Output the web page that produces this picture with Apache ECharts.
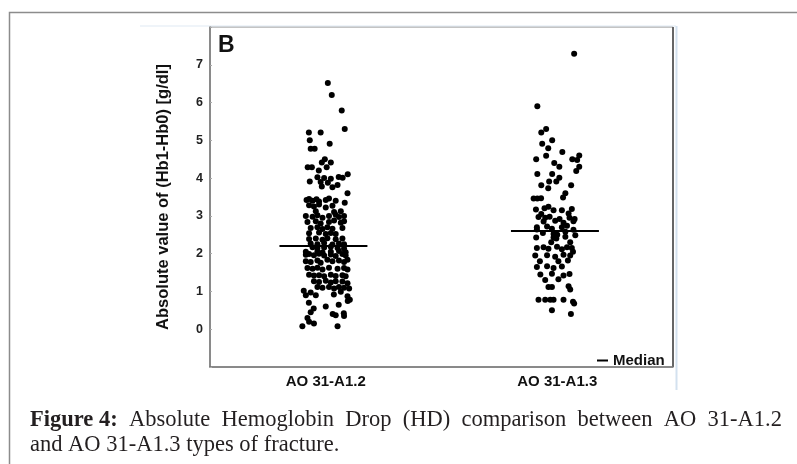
<!DOCTYPE html>
<html lang="en">
<head>
    <meta charset="UTF-8">
    <title>Absolute Hemoglobin Drop</title>
    <style>
        html, body { margin: 0; padding: 0; background: #fff; }
        #chart { width: 797px; height: 464px; }
    </style>
</head>
<body>
    <div id="chart"></div>
<script src="https://cdn.jsdelivr.net/npm/echarts@6/dist/echarts.min.js"></script>
<script type="text/javascript">
    // categories and medians
    var categories = ['AO 31-A1.2', 'AO 31-A1.3'];
    var medians = [2.2, 2.6];

    // [jitter, value] (jitter: band = 100 units)
    var groupA12 = [
        [0.9, 6.52], [2.6, 6.2], [6.9, 5.79], [8.2, 5.3], [-7.3, 5.21], [-2.2, 5.21], [-6.9, 5.0], [1.7, 4.91],
        [-6.5, 4.78], [-4.8, 4.78], [-0.4, 4.5], [-1.7, 4.41], [2.2, 4.41], [0.4, 4.29], [-7.8, 4.29], [-6.0, 4.29],
        [-3.0, 4.2], [9.5, 4.1], [7.3, 4.01],
        [-3.6, 4.02], [-0.7, 4.0], [2.2, 3.98], [5.6, 4.03],
        [-6.9, 3.91], [-2.2, 3.9], [0.9, 3.88], [5.1, 3.82],
        [-1.7, 3.78], [2.9, 3.76], [9.4, 3.6],
        [-8.3, 3.42], [-7.2, 3.45], [-5.7, 3.4], [-4.0, 3.44], [-2.9, 3.38], [0, 3.42], [1.4, 3.46], [4.3, 3.4], [8.2, 3.35],
        [-7.2, 3.28], [-5.1, 3.25], [-2.9, 3.3], [0, 3.22], [2.9, 3.27],
        [-4.3, 3.12], [3.6, 3.1], [6.5, 3.12],
        [-8.6, 3.0], [-5.7, 2.98], [-3.6, 3.02], [-1.4, 2.95], [1.4, 3.0], [4.3, 3.03], [5.7, 2.97], [7.9, 3.0],
        [-7.9, 2.84], [-4.3, 2.86], [-2.2, 2.8], [1.4, 2.84], [3.6, 2.88], [6.5, 2.82], [7.9, 2.86],
        [-6.5, 2.68], [-3.6, 2.7], [-1.4, 2.65], [0.7, 2.7], [2.9, 2.66], [7.2, 2.68],
        [-7.2, 2.54], [-2.9, 2.56], [0, 2.52], [2.2, 2.55], [4.3, 2.52],
        [-7.2, 2.39], [-4.3, 2.4], [-1.4, 2.37], [0.7, 2.41], [4.3, 2.38], [7.2, 2.4],
        [-6.5, 2.27], [-3.6, 2.25], [-0.7, 2.28], [2.9, 2.24], [5.7, 2.27], [7.9, 2.25],
        [-5.7, 2.17], [-3.6, 2.15], [-0.7, 2.16], [2.2, 2.18], [5.1, 2.15], [7.9, 2.14],
        [-8.6, 2.05], [-3.6, 2.06], [-1.4, 2.03], [2.2, 2.05], [5.7, 2.07], [8.6, 2.04],
        [-8.6, 1.97], [-7.2, 1.99], [-5.1, 1.96], [-2.9, 2.0], [-0.7, 1.95], [2.2, 1.98], [4.3, 1.94], [7.2, 1.99], [8.6, 1.95],
        [-8.6, 1.8], [-6.5, 1.78], [-3.6, 1.82], [-2.2, 1.76], [0.7, 1.84], [2.9, 1.8], [5.7, 1.82], [7.9, 1.78], [9.4, 1.84],
        [-7.9, 1.62], [-5.7, 1.6], [-3.6, 1.63], [-1.4, 1.58], [1.4, 1.63], [5.1, 1.6], [7.9, 1.62], [9.4, 1.58],
        [-7.2, 1.44], [-5.1, 1.42], [-2.9, 1.43], [-0.7, 1.4], [2.2, 1.44], [4.3, 1.41], [7.2, 1.43], [8.6, 1.4],
        [-5.1, 1.27], [-2.9, 1.25], [0, 1.28], [2.2, 1.24], [4.3, 1.27], [7.2, 1.26], [9.4, 1.22],
        [-3.6, 1.12], [-1.4, 1.1], [1.4, 1.12], [3.6, 1.08], [5.7, 1.12], [7.9, 1.1], [10.1, 1.08],
        [-9.5, 1.02], [-6.5, 0.97], [-8.6, 0.9], [-4.3, 0.9], [3.5, 0.92], [6.5, 0.99],
        [9.4, 0.87], [10.4, 0.78],
        [-7.3, 0.7], [0, 0.6], [5.6, 0.65], [9.5, 0.75],
        [-6.5, 0.45], [-5.2, 0.55], [3.0, 0.4], [7.8, 0.42],
        [-7.9, 0.3], [4.3, 0.37], [7.9, 0.35],
        [-7.2, 0.2], [-5.1, 0.15],
        [-10.1, 0.08], [5.1, 0.08]
    ];

    var groupA13 = [
        [7.3, 7.29], [-8.6, 5.9], [-4.8, 5.3], [-6.9, 5.21], [-6.5, 4.91], [-2.2, 5.0], [-3.9, 4.79], [2.2, 4.69],
        [-9.1, 4.5], [-4.8, 4.59], [6.5, 4.5], [9.5, 4.6], [8.6, 4.48], [-1.3, 4.4], [0.9, 4.3], [9.5, 4.3],
        [8.2, 4.19], [-8.6, 4.11], [-2.2, 4.11], [0.9, 4.01], [-0.4, 3.91], [-3.5, 3.91], [-6.9, 3.81], [6.0, 3.81], [-3.9, 3.73],
        [-10.2, 3.46], [-8.6, 3.46], [-7.0, 3.47], [2.5, 3.49], [3.5, 3.6],
        [-9.2, 3.17], [-5.5, 3.2], [-3.8, 3.24], [-1.6, 3.15], [2.0, 3.15], [6.3, 3.18],
        [-6.9, 3.05], [4.9, 3.06],
        [-8.1, 2.97], [-5.2, 2.95], [-3.3, 2.98], [1.0, 2.92], [5.3, 2.95], [7.5, 2.92],
        [-5.9, 2.85], [-0.9, 2.87], [2.7, 2.82], [7.0, 2.86],
        [-8.8, 2.7], [-4.4, 2.72], [-2.3, 2.66], [2.0, 2.7], [4.2, 2.74],
        [-8.8, 2.64], [-1.6, 2.52], [0, 2.5], [7.0, 2.63], [7.8, 2.49],
        [-6.2, 2.55], [3.5, 2.58],
        [-9.1, 2.43], [-1.6, 2.43], [-0.4, 2.4], [3.5, 2.45],
        [-2.6, 2.3], [5.6, 2.3],
        [-8.8, 2.15], [-5.9, 2.17], [-3.8, 2.13], [-0.1, 2.18], [2.0, 2.12], [4.2, 2.17], [6.3, 2.15], [6.8, 2.05],
        [-9.5, 1.95], [-4.4, 1.96], [-0.9, 1.92], [2.7, 1.97], [5.6, 1.95],
        [-7.5, 1.8], [0.5, 1.8], [4.6, 1.82],
        [-8.8, 1.65], [-4.4, 1.67], [-1.6, 1.62], [2.0, 1.66],
        [-7.3, 1.45], [-2.3, 1.47], [2.7, 1.42], [5.3, 1.46],
        [-5.2, 1.3], [0.5, 1.32],
        [-3.8, 1.12], [-2.3, 1.12], [4.9, 1.14], [5.6, 1.05],
        [-8.1, 0.78], [-5.2, 0.78], [-3.0, 0.78], [-1.6, 0.78], [2.7, 0.78], [6.8, 0.73], [7.3, 0.68],
        [-2.3, 0.5], [5.9, 0.4]
    ];

    var groups = [groupA12, groupA13];

    var sans = 'Liberation Sans, Arial, sans-serif';
    var serif = 'Liberation Serif, Times New Roman, serif';

    var chart = echarts.init(document.getElementById('chart'));

    var scatterSeries = groups.map(function (g, i) {
        return {
            name: categories[i],
            type: 'scatter',
            xAxisIndex: 1,
            symbolSize: 6,
            itemStyle: { color: '#000', opacity: 1 },
            data: g.map(function (p) { return [i * 100 + p[0], p[1]]; }),
            silent: true
        };
    });

    var medianSeries = {
        name: 'Median',
        type: 'custom',
        xAxisIndex: 1,
        itemStyle: { color: '#000' },
        data: medians.map(function (m, i) { return [i * 100, m]; }),
        renderItem: function (params, api) {
            var a = api.coord([api.value(0) - 20, api.value(1)]);
            var b = api.coord([api.value(0) + 18, api.value(1)]);
            return {
                type: 'line',
                shape: { x1: a[0], y1: a[1], x2: b[0], y2: b[1] },
                style: { stroke: '#000', lineWidth: 2 }
            };
        },
        z: 5
    };

    chart.setOption({
        animation: false,
        grid: {
            left: 210, top: 27, width: 463, height: 340,
            show: true, borderColor: '#8a8a8a', borderWidth: 1
        },
        legend: {
            data: ['Median'],
            left: 592, top: 348,
            icon: 'rect', itemWidth: 11, itemHeight: 2,
            textStyle: { fontFamily: sans, fontWeight: 'bold', fontSize: 15, color: '#111' }
        },
        xAxis: [{
            type: 'category',
            data: categories,
            axisLine: { onZero: false, lineStyle: { color: '#777', width: 1.5 } },
            axisTick: { alignWithLabel: true, length: 3, lineStyle: { color: '#888' } },
            axisLabel: { fontFamily: sans, fontWeight: 'bold', fontSize: 15, color: '#111', margin: 7 }
        }, {
            type: 'value', min: -50, max: 150, show: false
        }],
        yAxis: {
            type: 'value',
            min: -1, max: 8, interval: 1,
            name: 'Absolute value of (Hb1-Hb0) [g/dl]',
            nameLocation: 'middle',
            nameGap: 38,
            nameTextStyle: { fontFamily: sans, fontWeight: 'bold', fontSize: 16.5, color: '#111' },
            splitLine: { show: false },
            axisLine: { show: true, onZero: false, lineStyle: { color: '#777', width: 1.5 } },
            axisTick: { show: true, inside: true, length: 2, lineStyle: { color: '#aaa' } },
            axisLabel: {
                fontFamily: sans, fontWeight: 'bold', fontSize: 12.5, color: '#222', margin: 7,
                formatter: function (v) { return (v < 0 || v > 7) ? '' : v; }
            }
        },
        graphic: [
            { type: 'rect', shape: { x: 9.5, y: 12.5, width: 820, height: 480 },
              style: { fill: null, stroke: '#8c8c8c', lineWidth: 1.5 }, silent: true },
            { type: 'line', shape: { x1: 140, y1: 26, x2: 676, y2: 26 },
              style: { stroke: '#dfe9f3', lineWidth: 1 }, silent: true },
            { type: 'line', shape: { x1: 676.5, y1: 26, x2: 676.5, y2: 390 },
              style: { stroke: '#d3e1ef', lineWidth: 2 }, silent: true },
            { type: 'line', shape: { x1: 673, y1: 27, x2: 673, y2: 367 },
              style: { stroke: '#666', lineWidth: 2 }, silent: true },
            { type: 'text', left: 218, top: 34,
              style: { text: 'B', font: 'bold 23px ' + sans, fill: '#111' }, silent: true },
            { type: 'text', x: 30, y: 420,
              style: {
                  text: '{b|Figure 4:}{r|  Absolute  Hemoglobin  Drop  (HD)  comparison  between  AO  31-A1.2}',
                  verticalAlign: 'middle',
                  rich: {
                      b: { font: 'bold 22.5px ' + serif, fill: '#231f20' },
                      r: { font: '22.5px ' + serif, fill: '#231f20' }
                  }
              }, silent: true },
            { type: 'text', x: 30, y: 445,
              style: { text: 'and AO 31-A1.3 types of fracture.', font: '22.5px ' + serif, fill: '#231f20', verticalAlign: 'middle' },
              silent: true }
        ],
        series: scatterSeries.concat([medianSeries])
    });
</script>
</body>
</html>
